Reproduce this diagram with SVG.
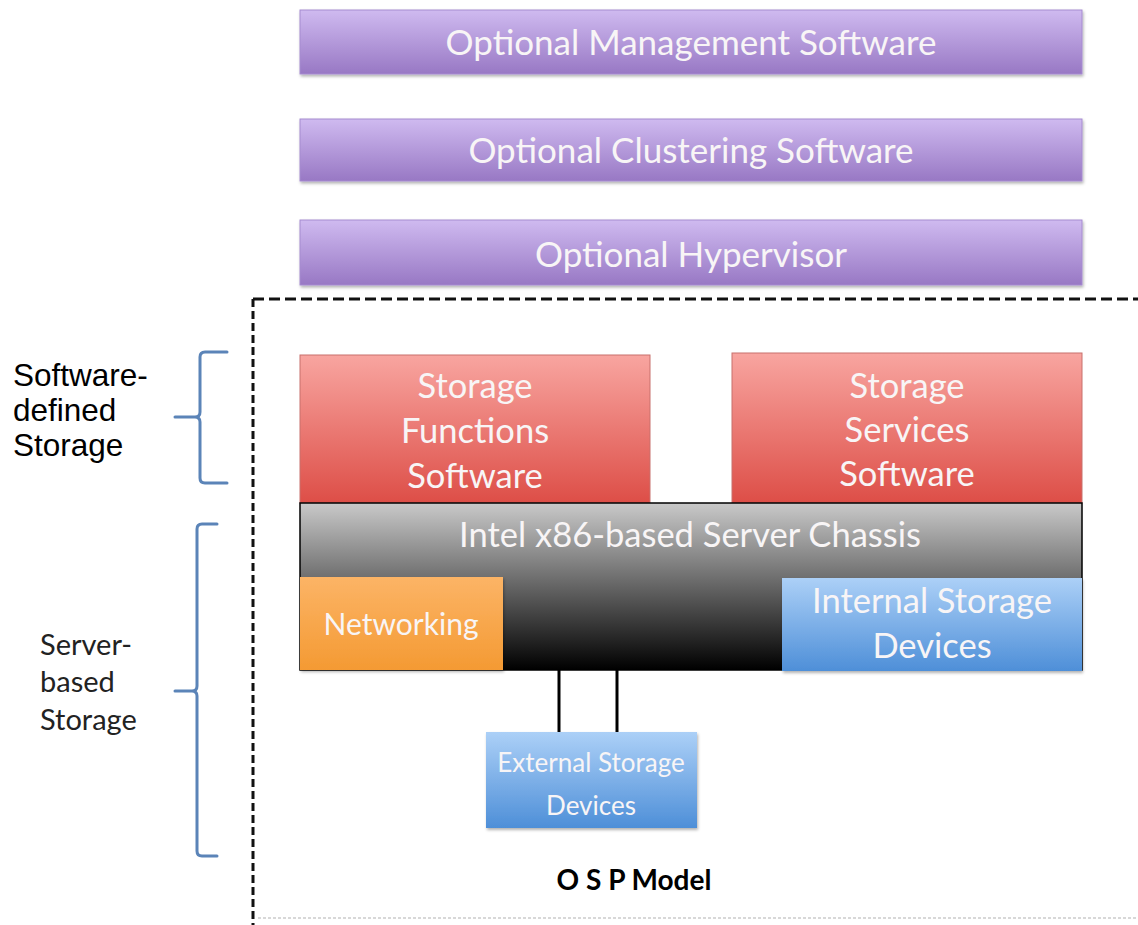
<svg xmlns="http://www.w3.org/2000/svg" width="1138" height="925" viewBox="0 0 1138 925">
  <defs>
    <linearGradient id="gPurple" x1="0" y1="0" x2="0" y2="1">
      <stop offset="0" stop-color="#cfbaf0"/>
      <stop offset="1" stop-color="#9878c4"/>
    </linearGradient>
    <linearGradient id="gRed" x1="0" y1="0" x2="0" y2="1">
      <stop offset="0" stop-color="#f8a5a0"/>
      <stop offset="1" stop-color="#dd4e47"/>
    </linearGradient>
    <linearGradient id="gGray" x1="0" y1="0" x2="0" y2="1">
      <stop offset="0" stop-color="#c9c9c9"/>
      <stop offset="1" stop-color="#000000"/>
    </linearGradient>
    <linearGradient id="gOrange" x1="0" y1="0" x2="0" y2="1">
      <stop offset="0" stop-color="#fcb466"/>
      <stop offset="1" stop-color="#f49a33"/>
    </linearGradient>
    <linearGradient id="gBlue" x1="0" y1="0" x2="0" y2="1">
      <stop offset="0" stop-color="#acd0f7"/>
      <stop offset="1" stop-color="#4e8fd8"/>
    </linearGradient>
    <filter id="shadow" x="-5%" y="-20%" width="110%" height="150%">
      <feDropShadow dx="1" dy="2" stdDeviation="1.5" flood-color="#000" flood-opacity="0.3"/>
    </filter>
  </defs>
  <style>
    .box-text { font-family: Lato, "Open Sans", "Liberation Sans", sans-serif; font-size: 34.5px; fill: #f8f5f6; text-anchor: middle; }
    .bar-text { font-size: 35px; }
    .small { font-size: 30px; }
    .smaller { font-size: 26px; }
    .side-label { font-family: "Liberation Sans", Arial, sans-serif; font-size: 31.5px; fill: #000; }
    .side-label2 { font-family: Lato, "Open Sans", "Liberation Sans", sans-serif; font-size: 29px; fill: #222; }
    .brace { fill: none; stroke: #5b84b8; stroke-width: 3; stroke-linecap: round; }
    .link { stroke: #000; stroke-width: 3; }
  </style>

  <rect width="1138" height="925" fill="#ffffff"/>

  <!-- optional software layers -->
  <g id="mgmt">
    <rect x="300" y="10" width="782" height="64" fill="url(#gPurple)" stroke="#a68bd0" stroke-width="1" filter="url(#shadow)"/>
    <text class="box-text bar-text" x="691" y="55">Optional Management Software</text>
  </g>
  <g id="clustering">
    <rect x="300" y="119" width="782" height="62" fill="url(#gPurple)" stroke="#a68bd0" stroke-width="1" filter="url(#shadow)"/>
    <text class="box-text bar-text" x="691" y="163">Optional Clustering Software</text>
  </g>
  <g id="hypervisor">
    <rect x="300" y="220" width="782" height="65" fill="url(#gPurple)" stroke="#a68bd0" stroke-width="1" filter="url(#shadow)"/>
    <text class="box-text bar-text" x="691" y="267">Optional Hypervisor</text>
  </g>

  <!-- model boundary -->
  <g id="boundary" fill="none" stroke="#111">
    <path d="M253,299 H1138" stroke-width="3" stroke-dasharray="11 5"/>
    <path d="M253,299 V925" stroke-width="3" stroke-dasharray="8 4"/>
    <path d="M258,918 H1138" stroke="#d8d8d8" stroke-width="2" stroke-dasharray="3 2"/>
  </g>

  <!-- side braces and labels -->
  <g id="sds-label">
    <path class="brace" d="M227,352 H205 Q200,352 200,357 V412 Q200,417 195,417 H175 M195,417 Q200,417 200,422 V478 Q200,483 205,483 H227"/>
    <text class="side-label" x="13" y="386">Software-</text>
    <text class="side-label" x="13" y="421">defined</text>
    <text class="side-label" x="13" y="456">Storage</text>
  </g>
  <g id="sbs-label">
    <path class="brace" d="M217,524 H202 Q197,524 197,529 V686 Q197,691 192,691 H175 M192,691 Q197,691 197,696 V851 Q197,856 202,856 H217"/>
    <text class="side-label2" x="40" y="655">Server-</text>
    <text class="side-label2" x="40" y="692">based</text>
    <text class="side-label2" x="40" y="730">Storage</text>
  </g>

  <!-- software-defined storage -->
  <g id="storage-functions">
    <rect x="300" y="355" width="350" height="148" fill="url(#gRed)" stroke="#c8706c" stroke-width="1"/>
    <text class="box-text" x="475" y="398">Storage</text>
    <text class="box-text" x="475" y="443">Functions</text>
    <text class="box-text" x="475" y="488">Software</text>
  </g>
  <g id="storage-services">
    <rect x="732" y="353" width="350" height="150" fill="url(#gRed)" stroke="#c8706c" stroke-width="1"/>
    <text class="box-text" x="907" y="398">Storage</text>
    <text class="box-text" x="907" y="442">Services</text>
    <text class="box-text" x="907" y="486">Software</text>
  </g>

  <!-- server hardware -->
  <g id="chassis">
    <rect x="300" y="503" width="782" height="167" fill="url(#gGray)" stroke="#000" stroke-width="1.5"/>
    <text class="box-text" x="690" y="547">Intel x86-based Server Chassis</text>
  </g>
  <g id="networking">
    <rect x="300" y="577" width="203" height="93" fill="url(#gOrange)" filter="url(#shadow)"/>
    <text class="box-text small" x="401" y="635">Networking</text>
  </g>
  <g id="internal-storage">
    <rect x="782" y="578" width="300" height="93" fill="url(#gBlue)" filter="url(#shadow)"/>
    <text class="box-text" x="932" y="613">Internal Storage</text>
    <text class="box-text" x="932" y="658">Devices</text>
  </g>

  <!-- links to external storage -->
  <g id="connectors">
    <line class="link" x1="559" y1="670" x2="559" y2="733"/>
    <line class="link" x1="617" y1="670" x2="617" y2="733"/>
  </g>

  <g id="external-storage">
    <rect x="486" y="732" width="211" height="96" fill="url(#gBlue)" filter="url(#shadow)"/>
    <text class="box-text smaller" x="591" y="772">External Storage</text>
    <text class="box-text smaller" x="591" y="815">Devices</text>
  </g>

  <g id="title">
    <text x="634" y="890" text-anchor="middle" font-family="Lato, 'Open Sans', 'Liberation Sans', sans-serif" font-weight="bold" font-size="28" fill="#000">O S P Model</text>
  </g>
</svg>
